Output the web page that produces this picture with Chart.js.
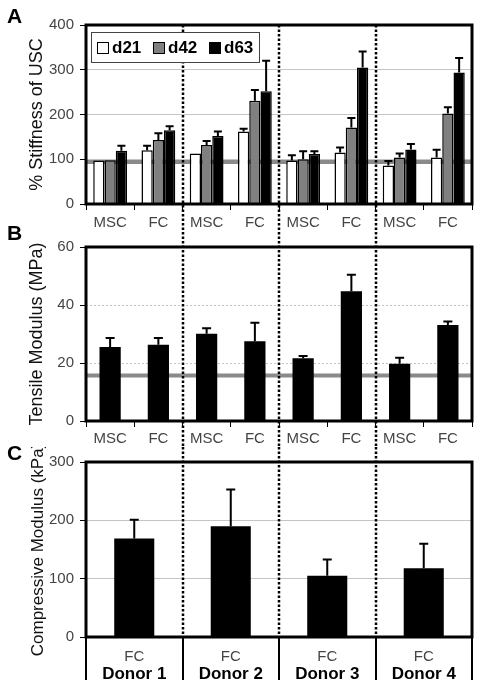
<!DOCTYPE html>
<html>
<head>
<meta charset="utf-8">
<script src="https://cdn.jsdelivr.net/npm/chart.js@4.4.0/dist/chart.umd.min.js"></script>
<style>
  body { margin: 0; background: #fff; width: 481px; height: 688px; position: relative; overflow: hidden; }
  canvas { position: absolute; left: 0; }
  .tag { position: absolute; left: 7px; font: bold 21px/21px "Liberation Sans", Arial, sans-serif; color: #000; }
</style>
</head>
<body>
<canvas id="chartA" width="481" height="232" style="top:0"></canvas>
<canvas id="chartB" width="481" height="215" style="top:232px"></canvas>
<canvas id="chartC" width="481" height="241" style="top:447px"></canvas>
<div class="tag" style="top:5px">A</div>
<div class="tag" style="top:222px">B</div>
<div class="tag" style="top:442px">C</div>

<script>
// categories
const cellTypes = ['MSC', 'FC', 'MSC', 'FC', 'MSC', 'FC', 'MSC', 'FC'];
const donors = ['Donor 1', 'Donor 2', 'Donor 3', 'Donor 4'];
const compressLabels = ['FC', 'FC', 'FC', 'FC'];
const timepoints = ['d21', 'd42', 'd63'];

// A: % stiffness of USC (value, + error)
const stiffD21 = [97, 120, 113, 162, 97, 115, 86, 104];
const stiffD21Err = [0, 10, 0, 6, 12, 11, 10, 17];
const stiffD42 = [98, 143, 132, 231, 100, 171, 104, 202];
const stiffD42Err = [0, 15, 9, 24, 18, 21, 9, 14];
const stiffD63 = [119, 165, 152, 252, 112, 305, 122, 294];
const stiffD63Err = [11, 9, 10, 68, 6, 36, 12, 32];
const uscLevel = 94;

// B: tensile modulus (MPa)
const tensile = [25.5, 26.3, 30.1, 27.5, 21.6, 44.7, 19.7, 33.1];
const tensileErr = [3.1, 2.3, 1.9, 6.4, 0.8, 5.7, 2.1, 1.2];
const tensileRef = 15.7;

// C: compressive modulus (kPa)
const compressive = [169, 190, 105, 118];
const compressiveErr = [32, 63, 28, 42];

const FONT = '"Liberation Sans", Arial, sans-serif';

// frame, reference line, donor separators, error bars, legend
const panelDecor = {
  id: 'panelDecor',
  beforeDatasetsDraw(chart, args, opts) {
    const { ctx, chartArea: a, scales } = chart;
    const x = scales.x, y = scales.y;
    ctx.save();
    if (opts.refValue != null) {
      const py = y.getPixelForValue(opts.refValue);
      ctx.strokeStyle = '#8a8a8a';
      ctx.lineWidth = 4;
      ctx.beginPath();
      ctx.moveTo(a.left, py);
      ctx.lineTo(a.right, py);
      ctx.stroke();
    }
    const n = chart.data.labels.length;
    const step = opts.perDonor;
    ctx.strokeStyle = '#000';
    ctx.lineWidth = 2.5;
    ctx.setLineDash([2.5, 2]);
    for (let i = step; i < n; i += step) {
      const px = Math.round(x.getPixelForValue(i - 0.5));
      ctx.beginPath();
      ctx.moveTo(px, opts.dotFrom === 'area' ? a.top : 0);
      ctx.lineTo(px, opts.solidBelow ? a.bottom : chart.height);
      ctx.stroke();
    }
    if (opts.solidBelow) {
      ctx.setLineDash([]);
      ctx.lineWidth = 2;
      for (let i = 0; i <= n; i += step) {
        const px = Math.round(x.getPixelForValue(i - 0.5));
        ctx.beginPath();
        ctx.moveTo(px, a.bottom);
        ctx.lineTo(px, a.bottom + opts.solidBelow);
        ctx.stroke();
      }
    }
    ctx.restore();
  },
  afterDatasetsDraw(chart, args, opts) {
    const { ctx, chartArea: a, scales } = chart;
    const y = scales.y;
    ctx.save();
    ctx.strokeStyle = '#000';
    ctx.lineWidth = 2;
    chart.data.datasets.forEach((ds, di) => {
      if (!ds.errorBars) return;
      const meta = chart.getDatasetMeta(di);
      meta.data.forEach((bar, i) => {
        const e = ds.errorBars[i];
        if (!e) return;
        const top = y.getPixelForValue(ds.data[i] + e);
        ctx.beginPath();
        ctx.moveTo(bar.x, bar.y);
        ctx.lineTo(bar.x, top);
        ctx.moveTo(bar.x - opts.cap / 2, top);
        ctx.lineTo(bar.x + opts.cap / 2, top);
        ctx.stroke();
      });
    });
    ctx.lineWidth = 3;
    ctx.strokeRect(a.left, a.top, a.right - a.left, a.bottom - a.top);

    if (opts.legend) {
      const bx = a.left + 5, by = a.top + 7, bw = 168, bh = 30;
      ctx.fillStyle = '#fff';
      ctx.fillRect(bx, by, bw, bh);
      ctx.lineWidth = 1;
      ctx.strokeStyle = '#444';
      ctx.strokeRect(bx + 0.5, by + 0.5, bw, bh);
      ctx.font = 'bold 17px ' + FONT;
      ctx.textBaseline = 'middle';
      chart.data.datasets.forEach((ds, i) => {
        const sx = bx + 6 + i * 56, cy = by + bh / 2 + 1;
        ctx.fillStyle = ds.backgroundColor;
        ctx.fillRect(sx, cy - 6, 12, 12);
        ctx.strokeStyle = '#000';
        ctx.strokeRect(sx + 0.5, cy - 5.5, 11, 11);
        ctx.fillStyle = '#000';
        ctx.fillText(ds.label, sx + 15, cy);
      });
    }
    ctx.restore();
  }
};

function yAxis(title, max, step, dash, titlePad, titleSize) {
  return {
    min: 0,
    max: max,
    ticks: { stepSize: step, color: '#444', font: { family: FONT, size: 15 }, padding: 6 },
    grid: { color: '#c4c4c4', tickColor: '#000', tickLength: 6 },
    border: { display: false, dash: dash },
    title: { display: true, text: title, color: '#111', font: { family: FONT, size: titleSize }, padding: { top: titlePad, bottom: 0 } },
    afterFit(s) { s.width = 86; }
  };
}

function xAxis(height, pad) {
  return {
    ticks: { color: '#444', font: { family: FONT, size: 15 }, padding: pad, autoSkip: false, maxRotation: 0 },
    grid: { drawOnChartArea: false, tickColor: '#000', tickLength: 6, offset: true },
    border: { display: false },
    afterFit(s) { s.height = height; }
  };
}

const baseOpts = {
  responsive: false,
  animation: false,
  events: []
};

// Panel A
new Chart(document.getElementById('chartA'), {
  type: 'bar',
  data: {
    labels: cellTypes,
    datasets: [
      { label: timepoints[0], data: stiffD21, errorBars: stiffD21Err, backgroundColor: '#ffffff', borderColor: '#000', borderWidth: 1.5 },
      { label: timepoints[1], data: stiffD42, errorBars: stiffD42Err, backgroundColor: '#808080', borderColor: '#000', borderWidth: 1.5 },
      { label: timepoints[2], data: stiffD63, errorBars: stiffD63Err, backgroundColor: '#000000', borderColor: '#000', borderWidth: 1.5 }
    ]
  },
  options: {
    ...baseOpts,
    categoryPercentage: 0.7,
    barPercentage: 1.0,
    layout: { padding: { top: 25, right: 9, left: 0, bottom: 0 } },
    scales: {
      x: xAxis(28, 4),
      y: yAxis('% Stiffness of USC', 400, 100, [], 26, 18)
    },
    plugins: {
      legend: { display: false },
      tooltip: { enabled: false },
      panelDecor: { refValue: uscLevel, perDonor: 2, dotFrom: 'area', cap: 8, legend: true }
    }
  },
  plugins: [panelDecor]
});

// Panel B
new Chart(document.getElementById('chartB'), {
  type: 'bar',
  data: {
    labels: cellTypes,
    datasets: [
      { label: 'Tensile', data: tensile, errorBars: tensileErr, backgroundColor: '#000', borderWidth: 0 }
    ]
  },
  options: {
    ...baseOpts,
    categoryPercentage: 1.0,
    barPercentage: 0.44,
    layout: { padding: { top: 10, right: 9, left: 0, bottom: 0 } },
    scales: {
      x: xAxis(26, 3),
      y: yAxis('Tensile Modulus (MPa)', 60, 20, [2, 2], 26, 18)
    },
    plugins: {
      legend: { display: false },
      tooltip: { enabled: false },
      panelDecor: { refValue: tensileRef, perDonor: 2, dotFrom: 'top', cap: 9 }
    }
  },
  plugins: [panelDecor]
});

// Panel C
new Chart(document.getElementById('chartC'), {
  type: 'bar',
  data: {
    labels: compressLabels,
    datasets: [
      { label: 'Compressive', data: compressive, errorBars: compressiveErr, backgroundColor: '#000', borderWidth: 0 }
    ]
  },
  options: {
    ...baseOpts,
    categoryPercentage: 1.0,
    barPercentage: 0.415,
    layout: { padding: { top: 12, right: 9, left: 0, bottom: 0 } },
    scales: {
      x: {
        ticks: { color: '#444', font: { family: FONT, size: 15 }, padding: 11, autoSkip: false, maxRotation: 0 },
        grid: { display: false, drawTicks: false },
        border: { display: false },
        afterFit(s) { s.height = 25; }
      },
      x2: {
        type: 'category',
        labels: donors,
        position: 'bottom',
        weight: 1,
        offset: true,
        ticks: { color: '#000', font: { family: FONT, size: 17, weight: 'bold' }, padding: 2, autoSkip: false, maxRotation: 0 },
        grid: { display: false, drawTicks: false },
        border: { display: false },
        afterFit(s) { s.height = 26; }
      },
      y: yAxis('Compressive Modulus (kPa)', 300, 100, [], 28, 17)
    },
    plugins: {
      legend: { display: false },
      tooltip: { enabled: false },
      panelDecor: { perDonor: 1, dotFrom: 'top', solidBelow: 43, cap: 9 }
    }
  },
  plugins: [panelDecor]
});
</script>
</body>
</html>
